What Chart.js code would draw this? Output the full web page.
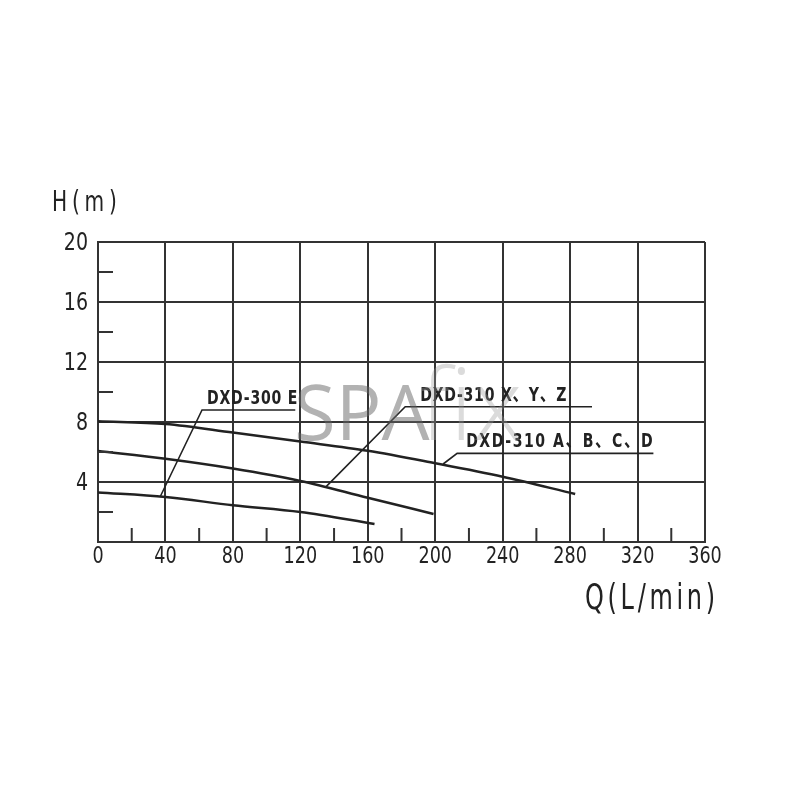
<!DOCTYPE html>
<html lang="en">
<head>
    <meta charset="UTF-8">
    <title>DXD pump curves</title>
    <script src="https://cdn.jsdelivr.net/npm/chart.js"></script>
    <style>
        html, body {
            margin: 0;
            padding: 0;
            background: #ffffff;
        }
        #wrap {
            width: 800px;
            height: 800px;
        }
    </style>
</head>
<body>
    <div id="wrap">
        <canvas id="grafico" width="800" height="800"></canvas>
    </div>
    <script>
    // Curves: flow Q (L/min) vs head H (m)
    const qABCD = [0, 40, 80, 120, 160, 200, 240, 283];
    const hABCD = [8.05, 7.87, 7.3, 6.7, 6.08, 5.25, 4.35, 3.2];

    const qXYZ = [0, 40, 80, 120, 160, 199];
    const hXYZ = [6.07, 5.55, 4.9, 4.07, 2.95, 1.87];

    const qE = [0, 40, 80, 120, 164];
    const hE = [3.3, 3.0, 2.45, 2.0, 1.2];

    // leader lines: tip on curve, corner, end of underline
    const leaderNames = ["DXD-300 E", "DXD-310 X、Y、Z", "DXD-310 A、B、C、D"];
    const leaderQ = [[36.8, 61.7, 117], [135.3, 182.2, 293], [204.7, 213, 329.4]];
    const leaderH = [[3.0, 8.8, 8.8], [3.69, 9.02, 9.02], [5.2, 5.91, 5.91]];

    const xTicks = [0, 40, 80, 120, 160, 200, 240, 280, 320, 360];
    const yTicks = [0, 4, 8, 12, 16, 20];
    const yLabels = [4, 8, 12, 16, 20];
    const xMinor = [20, 60, 100, 140, 180, 220, 260, 300, 340];
    const yMinor = [2, 6, 10, 14, 18];

    const FONT = "'Liberation Sans Narrow', 'DejaVu Sans Condensed', 'Noto Sans CJK SC', sans-serif";
    const INK = "#222";

    function puntos(qs, hs) {
        return qs.map((q, i) => ({ x: q, y: hs[i] }));
    }

    // text squeezed sideways so it looks like the narrow drafting font
    function texto(ctx, t, x, y, sx) {
        ctx.save();
        ctx.translate(x, y);
        ctx.scale(sx, 1);
        ctx.fillText(t, 0, 0);
        ctx.restore();
    }

    const curvas = [
        { data: puntos(qABCD, hABCD) },
        { data: puntos(qXYZ, hXYZ) },
        { data: puntos(qE, hE) }
    ].map(d => Object.assign(d, {
        borderColor: INK,
        borderWidth: 2.5,
        pointRadius: 0,
        cubicInterpolationMode: "monotone",
        fill: false
    }));

    const lideres = leaderQ.map((qs, i) => ({
        data: puntos(qs, leaderH[i]),
        borderColor: INK,
        borderWidth: 1.6,
        pointRadius: 0,
        tension: 0,
        fill: false
    }));

    const extras = {
        id: "extras",
        afterDraw(chart) {
            const ctx = chart.ctx;
            const xs = chart.scales.x, ys = chart.scales.y;
            const area = chart.chartArea;
            ctx.save();
            ctx.strokeStyle = "#333";
            ctx.lineWidth = 2;
            // minor ticks pointing into the plot
            yMinor.forEach(v => {
                const y = ys.getPixelForValue(v);
                ctx.beginPath();
                ctx.moveTo(area.left, y);
                ctx.lineTo(area.left + 15, y);
                ctx.stroke();
            });
            xMinor.forEach(v => {
                const x = xs.getPixelForValue(v);
                ctx.beginPath();
                ctx.moveTo(x, area.bottom);
                ctx.lineTo(x, area.bottom - 14);
                ctx.stroke();
            });

            // tick labels, narrow
            ctx.fillStyle = INK;
            ctx.font = "23px " + FONT;
            ctx.textBaseline = "middle";
            ctx.textAlign = "center";
            xTicks.forEach(v => {
                texto(ctx, String(v), xs.getPixelForValue(v), area.bottom + 15, 0.85);
            });
            ctx.textAlign = "right";
            ctx.font = "24px " + FONT;
            yLabels.forEach(v => {
                texto(ctx, String(v), area.left - 10, ys.getPixelForValue(v) + 2, 0.88);
            });

            // curve names above the leader underlines
            ctx.font = "bold 20px " + FONT;
            ctx.textBaseline = "alphabetic";
            ctx.textAlign = "left";
            const offs = [5, 15, 9];
            const spacing = ["1px", "1px", "2px"];
            leaderNames.forEach((t, i) => {
                const x = xs.getPixelForValue(leaderQ[i][1]) + offs[i];
                const y = ys.getPixelForValue(leaderH[i][1]) - 6;
                ctx.letterSpacing = spacing[i];
                texto(ctx, t, x, y, 0.78);
            });

            // axis titles
            ctx.letterSpacing = "6px";
            ctx.font = "28px " + FONT;
            ctx.textBaseline = "middle";
            texto(ctx, "H(m)", 52, 204, 0.8);
            ctx.font = "36px " + FONT;
            ctx.letterSpacing = "5px";
            texto(ctx, "Q(L/min)", 585, 600, 0.74);

            // watermark
            ctx.letterSpacing = "0px";
            ctx.globalAlpha = 0.5;
            ctx.fillStyle = "#666";
            ctx.textBaseline = "alphabetic";
            ctx.font = "76px 'Open Sans', sans-serif";
            ctx.fillText("SPA", 294, 440);
            ctx.globalAlpha = 0.35;
            ctx.fillStyle = "#999";
            ctx.font = "300 100px 'Open Sans', sans-serif";
            ctx.fillText("fix", 420, 440);
            ctx.restore();
        }
    };

    new Chart(document.getElementById("grafico").getContext("2d"), {
        type: "line",
        data: { datasets: curvas.concat(lideres) },
        options: {
            responsive: false,
            animation: false,
            layout: { padding: { left: 0, right: 95, top: 242, bottom: 218 } },
            plugins: {
                legend: { display: false },
                tooltip: { enabled: false }
            },
            scales: {
                x: {
                    type: "linear",
                    min: 0,
                    max: 360,
                    afterFit: s => { s.height = 40; },
                    afterBuildTicks: s => { s.ticks = xTicks.map(v => ({ value: v })); },
                    grid: {
                        color: "#333",
                        lineWidth: 2,
                        drawTicks: false
                    },
                    border: { color: "#333", width: 2 },
                    ticks: { display: false }
                },
                y: {
                    type: "linear",
                    min: 0,
                    max: 20,
                    afterFit: s => { s.width = 98; },
                    afterBuildTicks: s => { s.ticks = yTicks.map(v => ({ value: v })); },
                    grid: {
                        color: "#333",
                        lineWidth: 2,
                        drawTicks: false
                    },
                    border: { color: "#333", width: 2 },
                    ticks: { display: false }
                }
            }
        },
        plugins: [extras]
    });
    </script>
</body>
</html>
